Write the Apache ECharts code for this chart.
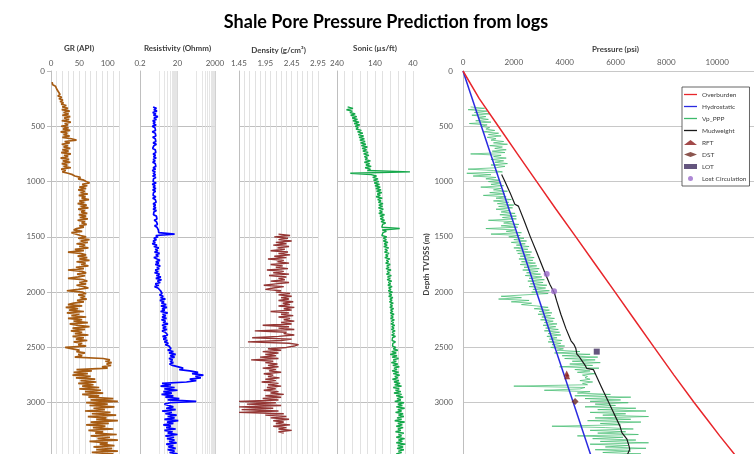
<!DOCTYPE html>
<html><head><meta charset="utf-8">
<script src="https://cdn.jsdelivr.net/npm/echarts@6/dist/echarts.min.js"></script>
<style>html,body{margin:0;padding:0;background:#fff}#c{width:754px;height:454px}</style>
</head><body><div id="c"></div>
<script>
// ---------- DATA ----------
// logs are sampled every 12.5 m of depth (TVDSS); each row = 100 m
const grTop = 100, grStep = 12.5;
const grValues = [
 2, 5, 3, 8, 6, 10, 8, 13,            // 100
 10, 16, 12, 19, 14, 21, 16, 22,      // 200
 18, 27, 20, 30, 19, 33, 22, 31,      // 300
 20, 34, 23, 32, 19, 35, 24, 30,      // 400
 18, 31, 21, 34, 17, 29, 22, 33,      // 500
 20, 36, 45, 24, 33, 19, 30, 22,      // 600
 34, 20, 31, 18, 35, 23, 30, 17,      // 700
 32, 21, 34, 19, 29, 22, 35, 18,      // 800
 26, 20, 30, 38, 42, 52, 48, 58,      // 900
 62, 68, 55, 64, 50, 62, 48, 60,      // 1000
 52, 65, 49, 61, 54, 67, 50, 59,      // 1100
 47, 63, 52, 66, 48, 60, 53, 64,      // 1200
 49, 62, 51, 65, 47, 60, 54, 63,      // 1300
 50, 58, 45, 40, 55, 36, 38, 52,      // 1400
 62, 48, 68, 52, 65, 45, 60, 50,      // 1500
 66, 42, 58, 30, 52, 62, 47, 64,      // 1600
 50, 68, 45, 61, 53, 66, 44, 58,      // 1700
 30, 55, 62, 46, 60, 48, 30, 57,      // 1800
 64, 50, 62, 45, 58, 66, 48, 28,      // 1900
 55, 62, 48, 60, 52, 63, 46, 58,      // 2000
 40, 30, 55, 26, 48, 32, 58, 28,      // 2100
 50, 36, 62, 30, 55, 40, 65, 33,      // 2200
 48, 68, 38, 60, 35, 55, 42, 66,      // 2300
 38, 58, 44, 64, 40, 55, 48, 62,      // 2400
 25, 38, 50, 45, 60, 48, 55, 42,      // 2500
 92, 104, 96, 107, 98, 106, 90, 100,  // 2600
 45, 72, 40, 65, 38, 70, 44, 78,      // 2700
 52, 80, 48, 75, 55, 85, 50, 88,      // 2800
 60, 92, 55, 85, 66, 110, 70, 118,    // 2900
 62, 100, 68, 112, 75, 95, 60, 105,   // 3000
 72, 115, 65, 98, 80, 118, 70, 102,   // 3100
 62, 96, 74, 110, 66, 92, 78, 116,    // 3200
 70, 104, 82, 118, 68, 100, 86, 112,  // 3300
 75, 108, 80, 118, 72, 110, 90];      // 3400

const resTop = 325, resStep = 12.5;
const resValues = [
 1.0, 1.5, 1.1, 1.6, 0.95, 1.4, 1.05, 1.8,   // 325
 1.1, 1.5, 0.95, 1.3, 1.0, 1.45, 0.9, 1.25,  // 425
 1.0, 1.35, 0.9, 1.3, 1.05, 1.4, 0.95, 1.3,  // 525
 1.05, 1.4, 1.0, 1.5, 1.1, 1.35, 0.95, 1.3,  // 625
 1.1, 1.4, 1.0, 1.35, 1.05, 1.45, 1.0, 1.3,  // 725
 0.95, 1.3, 1.05, 1.4, 1.0, 1.35, 0.9, 1.3,  // 825
 1.0, 1.35, 0.95, 1.4, 1.05, 1.3, 1.0, 1.45, // 925
 0.9, 1.3, 1.0, 1.4, 0.95, 1.35, 1.05, 1.3,  // 1025
 1.0, 1.4, 0.95, 1.3, 1.1, 1.45, 1.0, 1.35,  // 1125
 1.05, 1.4, 1.0, 1.5, 1.1, 1.4, 1.05, 1.5,   // 1225
 1.2, 1.6, 1.15, 1.5, 1.25, 1.7, 1.2, 1.6,   // 1325
 1.5, 1.9, 1.6, 2.0, 14, 1.4, 1.8, 1.1,      // 1425
 1.5, 1.0, 1.3, 0.9, 1.6, 1.1, 2.0, 1.3,     // 1525
 1.8, 1.2, 2.2, 1.4, 1.9, 1.1, 1.6, 2.3,     // 1625
 1.4, 2.0, 1.3, 2.4, 1.6, 2.1, 1.3, 1.9,     // 1725
 1.2, 2.2, 1.5, 2.6, 1.4, 2.8, 1.7, 2.4,     // 1825
 1.3, 2.0, 1.2, 1.8, 1.5, 2.5, 2.0, 3.0,     // 1925
 2.2, 3.5, 2.5, 4.5, 2.3, 3.8, 2.8, 5.0,     // 2025
 2.6, 5.5, 3.0, 4.2, 2.5, 6.0, 3.2, 4.8,     // 2125
 3.0, 5.2, 2.8, 4.6, 3.4, 6.2, 3.0, 5.0,     // 2225
 3.3, 5.5, 3.0, 4.5, 3.6, 6.0, 3.2, 5.2,     // 2325
 3.5, 5.8, 4.0, 6.5, 4.5, 7.0, 5.5, 9.0,     // 2425
 6.0, 12, 7.0, 16, 8.0, 14, 7.0, 11,         // 2525
 8.0, 12, 7.5, 11, 9.0, 40, 25, 90,          // 2625
 250, 120, 480, 180, 350, 90, 200, 60,       // 2725
 3.0, 9.0, 2.5, 14, 4.0, 20, 3.5, 10,        // 2825
 2.8, 12, 4.5, 25, 6.0, 200, 8.0, 4.0,       // 2925
 3.5, 12, 5.0, 16, 3.0, 10, 4.5, 18,         // 3025
 6.0, 14, 4.0, 22, 5.5, 12, 3.5, 9.0,        // 3125
 5.0, 16, 4.0, 11, 6.0, 20, 4.5, 13,         // 3225
 5.5, 14, 7.0, 18, 5.0, 12, 6.5, 16,         // 3325
 6.0, 14, 7.5, 20, 9.0];                     // 3425

const denTop = 1475, denStep = 12.5;
const denValues = [
 2.2, 2.42, 2.12, 2.38, 2.2, 2.45, 2.15, 2.35,   // 1475
 2.1, 2.4, 2.18, 2.32, 2.05, 2.38, 2.2, 2.42,    // 1575
 2.12, 2.35, 2.0, 2.3, 2.18, 2.4, 2.05, 2.28,    // 1675
 2.15, 2.38, 1.98, 2.3, 2.1, 2.4, 2.02, 2.35,    // 1775
 2.2, 2.32, 2.05, 2.4, 2.15, 1.92, 2.3, 2.1,     // 1875
 1.95, 2.25, 2.15, 2.42, 2.2, 2.45, 2.25, 2.4,   // 1975
 2.2, 2.48, 2.28, 2.42, 2.2, 2.5, 2.3, 2.45,     // 2075
 2.05, 2.4, 2.25, 2.48, 2.2, 2.42, 2.3, 2.5,     // 2175
 2.25, 2.45, 1.9, 2.4, 2.2, 2.5, 1.75, 2.35,     // 2275
 2.3, 2.5, 2.2, 1.7, 2.45, 2.25, 1.62, 2.4,      // 2375
 2.58, 2.5, 2.35, 2.0, 2.25, 1.9, 2.2, 1.95,     // 2475
 2.15, 1.85, 2.2, 1.68, 2.1, 1.95, 2.18, 2.0,    // 2575
 2.2, 1.9, 2.15, 2.02, 2.25, 1.92, 2.1, 2.0,     // 2675
 2.22, 1.95, 2.15, 1.88, 2.2, 2.0, 2.25, 1.98,   // 2775
 2.15, 1.92, 2.2, 2.05, 2.3, 1.95, 2.25, 1.9,    // 2875
 2.2, 1.45, 2.15, 1.6, 2.25, 1.45, 2.1, 1.5,     // 2975
 2.2, 1.45, 2.3, 1.95, 2.35, 2.05, 2.4, 2.1,     // 3075
 2.3, 2.15, 2.42, 2.1, 2.35, 2.2, 2.45, 2.2,     // 3175
 2.3];                                           // 3275

const sonTop = 325, sonStep = 12.5;
const sonValues = [
 212, 198, 215, 200, 206, 192, 204, 188,  // 325
 200, 186, 198, 182, 195, 180, 192, 184,  // 425
 190, 176, 186, 172, 184, 170, 182, 168,  // 525
 180, 166, 178, 164, 176, 160, 174, 162,  // 625
 172, 158, 170, 156, 168, 160, 166, 152,  // 725
 168, 154, 164, 150, 166, 152, 160, 48,   // 825
 205, 150, 136, 146, 132, 144, 130, 142,  // 925
 128, 140, 126, 138, 124, 136, 122, 134,  // 1025
 126, 137, 121, 133, 124, 131, 119, 130,  // 1125
 120, 131, 118, 128, 121, 130, 115, 127,  // 1225
 118, 126, 115, 124, 112, 120, 118, 122,  // 1325
 75, 121, 110, 119, 114, 122, 109, 118,   // 1425
 110, 118, 106, 116, 108, 117, 104, 114,  // 1525
 107, 115, 103, 112, 106, 114, 101, 110,  // 1625
 104, 112, 100, 109, 103, 111, 98, 108,   // 1725
 102, 110, 97, 107, 100, 108, 96, 105,    // 1825
 99, 106, 95, 104, 98, 105, 94, 103,      // 1925
 96, 104, 93, 101, 95, 102, 92, 100,      // 2025
 94, 101, 91, 99, 93, 100, 90, 98,        // 2125
 92, 99, 89, 97, 91, 98, 88, 96,          // 2225
 90, 97, 87, 95, 89, 96, 86, 94,          // 2325
 89, 95, 86, 93, 88, 94, 85, 92,          // 2425
 80, 96, 84, 100, 82, 95, 78, 92,         // 2525
 84, 97, 80, 93, 76, 90, 82, 95,          // 2625
 78, 92, 75, 88, 80, 94, 77, 90,          // 2725
 74, 88, 70, 92, 76, 86, 72, 90,          // 2825
 70, 84, 66, 82, 72, 88, 64, 80,          // 2925
 68, 84, 62, 80, 70, 86, 66, 78,          // 3025
 64, 82, 70, 88, 62, 80, 68, 84,          // 3125
 66, 80, 72, 86, 64, 78, 70, 84,          // 3225
 62, 78, 68, 84, 60, 80, 66, 82,          // 3325
 64, 78, 70, 84, 68];                     // 3425

const vpTop = 325, vpStep = 12.5;
const vpValues = [
 300, 850, 200, 950, 450, 1050, 350, 900,       // 325
 600, 1000, 500, 1100, 250, 950, 700, 1050,     // 425
 900, 1250, 800, 1400, 1000, 1500, 950, 1300,   // 525
 1100, 1600, 1200, 1750, 1050, 1550, 1250, 1700,// 625
 1150, 1650, 300, 1500, 1200, 1700, 1100, 1600, // 725
 1250, 1750, 1100, 1650, 1300, 200, 1200, 1550, // 825
 150, 1100, 400, 1300, 900, 1450, 1000, 1500,   // 925
 1100, 1600, 700, 1500, 1200, 1750, 1050, 1650, // 1025
 800, 1700, 1300, 1900, 1200, 1800, 1350, 2000, // 1125
 1400, 1950, 1300, 1850, 1500, 2050, 1450, 2100,// 1225
 1550, 2100, 1000, 1950, 1600, 2200, 1500, 2150,// 1325
 900, 2050, 1700, 2300, 1100, 2250, 1800, 2400, // 1425
 2000, 2500, 1900, 2450, 2100, 2600, 2000, 2550,// 1525
 2100, 2700, 2150, 2650, 2250, 2800, 2200, 2750,// 1625
 2300, 2850, 2250, 2900, 2400, 3000, 2350, 2950,// 1725
 2500, 3050, 2450, 3100, 2600, 3200, 2550, 3150,// 1825
 2650, 3300, 2600, 3250, 2750, 3400, 2700, 3350,// 1925
 2400, 1500, 2300, 1400, 2600, 1900, 2700, 2300,// 2025
 2900, 3350, 2800, 3400, 3000, 3500, 2950, 3450,// 2125
 3100, 3600, 3050, 3550, 3200, 3700, 3150, 3650,// 2225
 3250, 3750, 3200, 3800, 3350, 3850, 3300, 3700,// 2325
 3400, 3900, 3350, 3850, 3500, 4000, 3450, 3950,// 2425
 3700, 4600, 3600, 5000, 3900, 5300, 4000, 5200,// 2525
 4300, 5400, 4200, 5100, 3800, 5350, 4400, 5000,// 2625
 4500, 5200, 4700, 4900, 4800, 5000, 4600, 5100,// 2725
 4700, 4900, 2000, 4800, 4600, 3200, 5000, 4500,// 2825
 5800, 4400, 6600, 4800, 6200, 5000, 6500, 5200,// 2925
 6000, 4800, 6800, 5300, 7200, 5000, 6400, 5500,// 3025
 7300, 5200, 6600, 4900, 7000, 5400, 6200, 3500,// 3125
 5600, 6700, 5000, 6400, 5300, 6900, 4500, 6300,// 3225
 5100, 6800, 5400, 7300, 5000, 6500, 5600, 7200,// 3325
 5200, 6600, 5500, 7000, 5400];                 // 3425

// [pressure psi, depth m]
const overburden = [[0,0],[640,250],[1390,500],[2140,750],[2900,1000],[3660,1250],[4440,1500],[5210,1750],[5984,2000],[6750,2250],[7520,2500],[8300,2750],[9100,3000],[9600,3150],[10100,3300],[10800,3500]];
const hydrostatic = [[0,0],[5065,3500]];
const mudweight = [[1520,937],[1650,1000],[1850,1100],[2040,1205],[2180,1222],[2400,1350],[2650,1500],[2900,1640],[3230,1830],[3420,1930],[3600,2010],[3680,2075],[3850,2200],[4050,2330],[4250,2440],[4370,2475],[4440,2510],[4480,2560],[4560,2580],[4650,2610],[4800,2660],[4870,2690],[5130,2700],[5450,2860],[5800,3030],[6180,3214],[6250,3270],[6450,3330],[6530,3390],[6560,3420],[6470,3470]];
const rft = [[4080,2735],[4100,2760]];
const dst = [[4410,2990]];
const lot = [[5262,2538]];
const lostCirc = [[3294,1835],[3583,1993]];

// axis tick helpers
const resMinorLines = [2,4,6,8,10,12,14,16,18,200,400,600,800,1000,1200,1400,1600,1800];
const lineLegend = ['Overburden','Hydrostatic','Vp_PPP','Mudweight'];
const markerLegend = ['RFT','DST','LOT','Lost Circulation'];

// ---------- CHART ----------
const toPairs = (vals, top, step) => vals.map((v, i) => [v, top + i * step]);
const FONT = 'Lato, "Liberation Sans", sans-serif';
const lbl = {fontSize: 8, color: '#595959', fontFamily: FONT};
const nameStyle = {fontSize: 8, fontWeight: 'bold', color: '#404040', fontFamily: FONT};
const vGrid = {show: true, lineStyle: {color: '#d9d9d9', width: 0.8}};
const niceLog = v => { const p = Math.pow(10, Math.floor(Math.log10(v) + 1e-9)); return String(+(Math.round(v / p) * p).toPrecision(3)); };

const gridPos = [[51,68],[140,75],[239,79],[337,76],[463,305]];
const grids = gridPos.map(p => ({left: p[0], width: p[1], top: 71, bottom: -4, outerBoundsMode: 'none', containLabel: false}));

const xAxes = [
  {gridIndex:0, type:'value', position:'top', min:0, max:120, interval:10,
   name:'GR (API)', nameLocation:'middle', nameGap:19, nameTextStyle:Object.assign({}, nameStyle, {padding:[0,12,0,0]}),
   axisLine:{show:false}, axisTick:{show:false},
   axisLabel:Object.assign({}, lbl, {margin:4, formatter: v => (v % 50 === 0 ? String(v) : '')}),
   splitLine: vGrid},
  {gridIndex:1, type:'log', logBase:100, position:'top', min:0.2, max:2000, interval:1,
   name:'Resistivity (Ohmm)', nameLocation:'middle', nameGap:19, nameTextStyle:nameStyle,
   axisLine:{show:false}, axisTick:{show:false},
   axisLabel:Object.assign({}, lbl, {margin:4, formatter: niceLog}),
   splitLine: {show:true, lineStyle:{color:'#cfcfcf', width:0.8}}},
  {gridIndex:2, type:'value', position:'top', min:1.45, max:2.95, interval:0.5,
   name:'Density (g/cm³)', nameLocation:'middle', nameGap:17, nameTextStyle:nameStyle,
   axisLine:{show:false}, axisTick:{show:false},
   axisLabel:Object.assign({}, lbl, {margin:4, formatter: v => v.toFixed(2)}),
   minorTick:{show:false, splitNumber:5}, minorSplitLine: vGrid, splitLine: vGrid},
  {gridIndex:3, type:'value', position:'top', inverse:true, min:40, max:240, interval:100,
   name:'Sonic (µs/ft)', nameLocation:'middle', nameGap:19, nameTextStyle:nameStyle,
   axisLine:{show:false}, axisTick:{show:false},
   axisLabel:Object.assign({}, lbl, {margin:4}),
   minorTick:{show:false, splitNumber:5}, minorSplitLine: vGrid, splitLine: vGrid},
  {gridIndex:4, type:'value', position:'top', min:0, max:12000, interval:2000,
   name:'Pressure (psi)', nameLocation:'middle', nameGap:14, nameTextStyle:nameStyle,
   axisLine:{show:false}, axisTick:{show:false},
   axisLabel:Object.assign({}, lbl, {margin:5, formatter: v => String(v)}),
   splitLine:{show:false}}
];

const yAxes = [0,1,2,3].map(i => ({
  gridIndex:i, type:'value', inverse:true, min:0, max:3500, interval:500,
  axisLine:{show:true, lineStyle:{color:'#bfbfbf', width:1}},
  axisTick:{show:i === 0, length:4, lineStyle:{color:'#bfbfbf'}},
  axisLabel:Object.assign({}, lbl, {show:i === 0, margin:6, formatter: v => String(v)}),
  splitLine:{show:true, showMinLine:false, lineStyle:{color:'#bfbfbf', width:1}}
}));
yAxes.push({
  gridIndex:4, type:'value', inverse:true, min:0, max:3500, interval:500,
  name:'Depth TVDSS (m)', nameLocation:'middle', nameGap:24, nameRotate:90, nameTextStyle:nameStyle,
  axisLine:{show:true, lineStyle:{color:'#bfbfbf', width:1}},
  axisTick:{show:false},
  axisLabel:Object.assign({}, lbl, {margin:10, formatter: v => String(v)}),
  splitLine:{show:true, lineStyle:{color:'#c8c8c8', width:1.2}}
});

const lineSeries = (name, xi, data, color, width, z) => ({
  name, type:'line', xAxisIndex:xi, yAxisIndex:xi, data, symbol:'none', smooth:false,
  itemStyle:{color}, lineStyle:{color, width}, z
});

const series = [
  lineSeries('GR', 0, toPairs(grValues, grTop, grStep), '#a65b12', 1.7, 3),
  Object.assign(lineSeries('Resistivity', 1, toPairs(resValues, resTop, resStep), '#0000ff', 1.7, 3), {
   markLine:{silent:true, z:1, symbol:['none','none'], label:{show:false}, animation:false,
     lineStyle:{color:'#dedede', width:0.8, type:'solid'}, emphasis:{disabled:true},
     data: resMinorLines.map(v => ({xAxis: v}))}}),
  lineSeries('Density', 2, toPairs(denValues, denTop, denStep), '#943634', 1.4, 3),
  lineSeries('Sonic', 3, toPairs(sonValues, sonTop, sonStep), '#14a84a', 1.4, 3),
  lineSeries('Vp_PPP', 4, toPairs(vpValues, vpTop, vpStep), '#3dba6b', 0.7, 2),
  lineSeries('Hydrostatic', 4, hydrostatic, '#2a2ae0', 1.5, 3),
  lineSeries('Mudweight', 4, mudweight, '#1a1a1a', 1.2, 4),
  lineSeries('Overburden', 4, overburden, '#e8262b', 1.5, 3),
  {name:'RFT', type:'scatter', xAxisIndex:4, yAxisIndex:4, data:rft, symbol:'triangle', symbolSize:6,
   itemStyle:{color:'#8b1c1c'}, z:5},
  {name:'DST', type:'scatter', xAxisIndex:4, yAxisIndex:4, data:dst, symbol:'diamond', symbolSize:7,
   itemStyle:{color:'#6e2a22'}, z:5},
  {name:'LOT', type:'scatter', xAxisIndex:4, yAxisIndex:4, data:lot, symbol:'rect', symbolSize:6,
   itemStyle:{color:'#3d2b5e'}, z:5},
  {name:'Lost Circulation', type:'scatter', xAxisIndex:4, yAxisIndex:4, data:lostCirc, symbol:'circle', symbolSize:6,
   itemStyle:{color:'#9a6acb'}, z:5}
];

const legendData = lineLegend.map(n => ({name:n, icon:'path://M0 0H24V2.4H0Z'}))
  .concat(markerLegend.map(n => ({name:n})));

const chart = echarts.init(document.getElementById('c'), null, {renderer:'canvas'});
chart.setOption({
  animation:false,
  backgroundColor:'#ffffff',
  textStyle:{fontFamily: FONT},
  graphic:[{type:'text', x:386, y:22, silent:true,
    style:{text:'Shale Pore Pressure Prediction from logs', align:'center', verticalAlign:'middle',
      fontSize:18, fontWeight:'bold', fontFamily:FONT, fill:'#000000'}}],
  legend:{data:legendData, orient:'vertical', left:682, top:87,
    padding:[4,3,4,2], itemWidth:13, itemHeight:5, itemGap:5,
    backgroundColor:'#ffffff', borderColor:'#404040', borderWidth:0.8,
    textStyle:{fontSize:6.5, color:'#404040', fontFamily:FONT}},
  grid: grids,
  xAxis: xAxes,
  yAxis: yAxes,
  series: series
});
</script>
</body></html>
